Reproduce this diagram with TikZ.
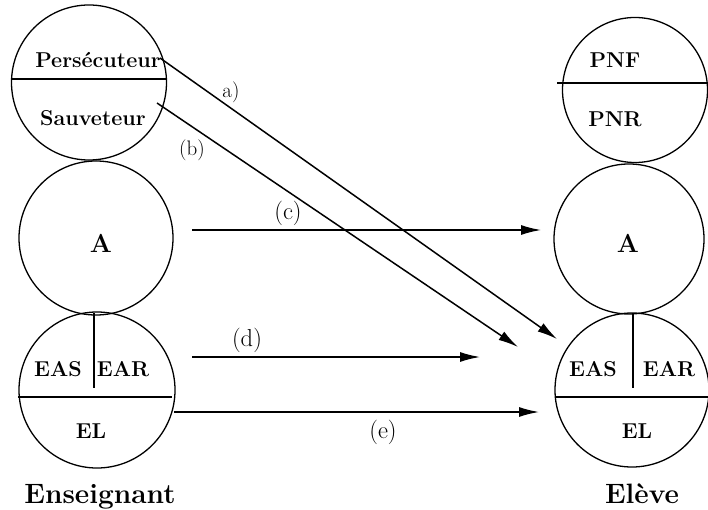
\documentclass[tikz,border=0pt]{standalone}
\usepackage{fontspec}
\usetikzlibrary{arrows.meta}
\begin{document}
\begin{tikzpicture}[x=1pt,y=-1pt,
  bubble/.style={circle,draw,line width=1.3pt,inner sep=0pt,minimum size=#1},
  divider/.style={line width=1.9pt},
  lbl/.style={font=\fontsize{21.5}{22}\selectfont\bfseries,anchor=base,inner sep=0pt},
  albl/.style={font=\fontsize{26}{26}\selectfont\bfseries,anchor=base,inner sep=0pt},
  title/.style={font=\fontsize{28}{28}\selectfont\bfseries,anchor=base,inner sep=0pt},
  small/.style={font=\fontsize{21}{21}\selectfont,inner sep=0pt},
  big/.style={font=\fontsize{24.5}{25}\selectfont,inner sep=0pt},
  link/.style={line width=1.5pt,-{Latex[length=20pt,width=10pt]}}]
\useasboundingbox (0,0) rectangle (708,510);
% left column
\node[bubble=155pt] (L1) at (89,82.5) {};
\node[bubble=154pt] (L2) at (96,238) {};
\node[bubble=156pt] (L3) at (97,390) {};
% right column
\node[bubble=145pt] (R1) at (635,90) {};
\node[bubble=150pt] (R2) at (629,239) {};
\node[bubble=154pt] (R3) at (632,390) {};
% dividers
\draw[divider] (12,79) -- (166,79);
\draw[divider] (18,397) -- (172,397);
\draw[divider] (94,313) -- (94,388);
\draw[divider] (557,83) -- (707,83);
\draw[divider] (555,397) -- (708,397);
\draw[divider] (633,313) -- (633,388);
% texts left
\node[lbl] (tpers) at (98,68) {Persécuteur};
\node[lbl] (tsauv) at (93,126) {Sauveteur};
\node[albl] (tAl) at (101,253) {A};
\node[lbl] (teasl) at (58,376) {EAS};
\node[lbl] (tearl) at (123,376) {EAR};
\node[lbl] (tell) at (91,438) {EL};
\node[title] (tens) at (100,503) {Enseignant};
% texts right
\node[lbl] (tpnf) at (615,68) {PNF};
\node[lbl] (tpnr) at (615,127) {PNR};
\node[albl] (tAr) at (628,253) {A};
\node[lbl] (tear) at (593,376) {EAS};
\node[lbl] (tearr) at (669,376) {EAR};
\node[lbl] (telr) at (637,438) {EL};
\node[title] (telv) at (642,503) {Elève};
% connector ends
\coordinate (sa) at (160,58);
\coordinate (sb) at (157,103);
\coordinate (sc) at (192,230);
\coordinate (sd) at (192,357);
\coordinate (se) at (174,412);
\coordinate (ea) at (557,339);
\coordinate (eb) at (518,347);
\coordinate (ec) at (541,230);
\coordinate (ed) at (480,357);
\coordinate (ee) at (539,412);
\draw[link] (sa) -- (ea);
\draw[link] (sb) -- (eb);
\draw[link] (sc) -- (ec);
\draw[link] (sd) -- (ed);
\draw[link] (se) -- (ee);
% connector labels
\node[small] (la) at (231,92) {a)};
\node[small] (lb) at (192,150) {(b)};
\node[big] (lc) at (288,213) {(c)};
\node[big] (ld) at (247,340) {(d)};
\node[big] (le) at (383,432) {(e)};
\end{tikzpicture}
\end{document}
